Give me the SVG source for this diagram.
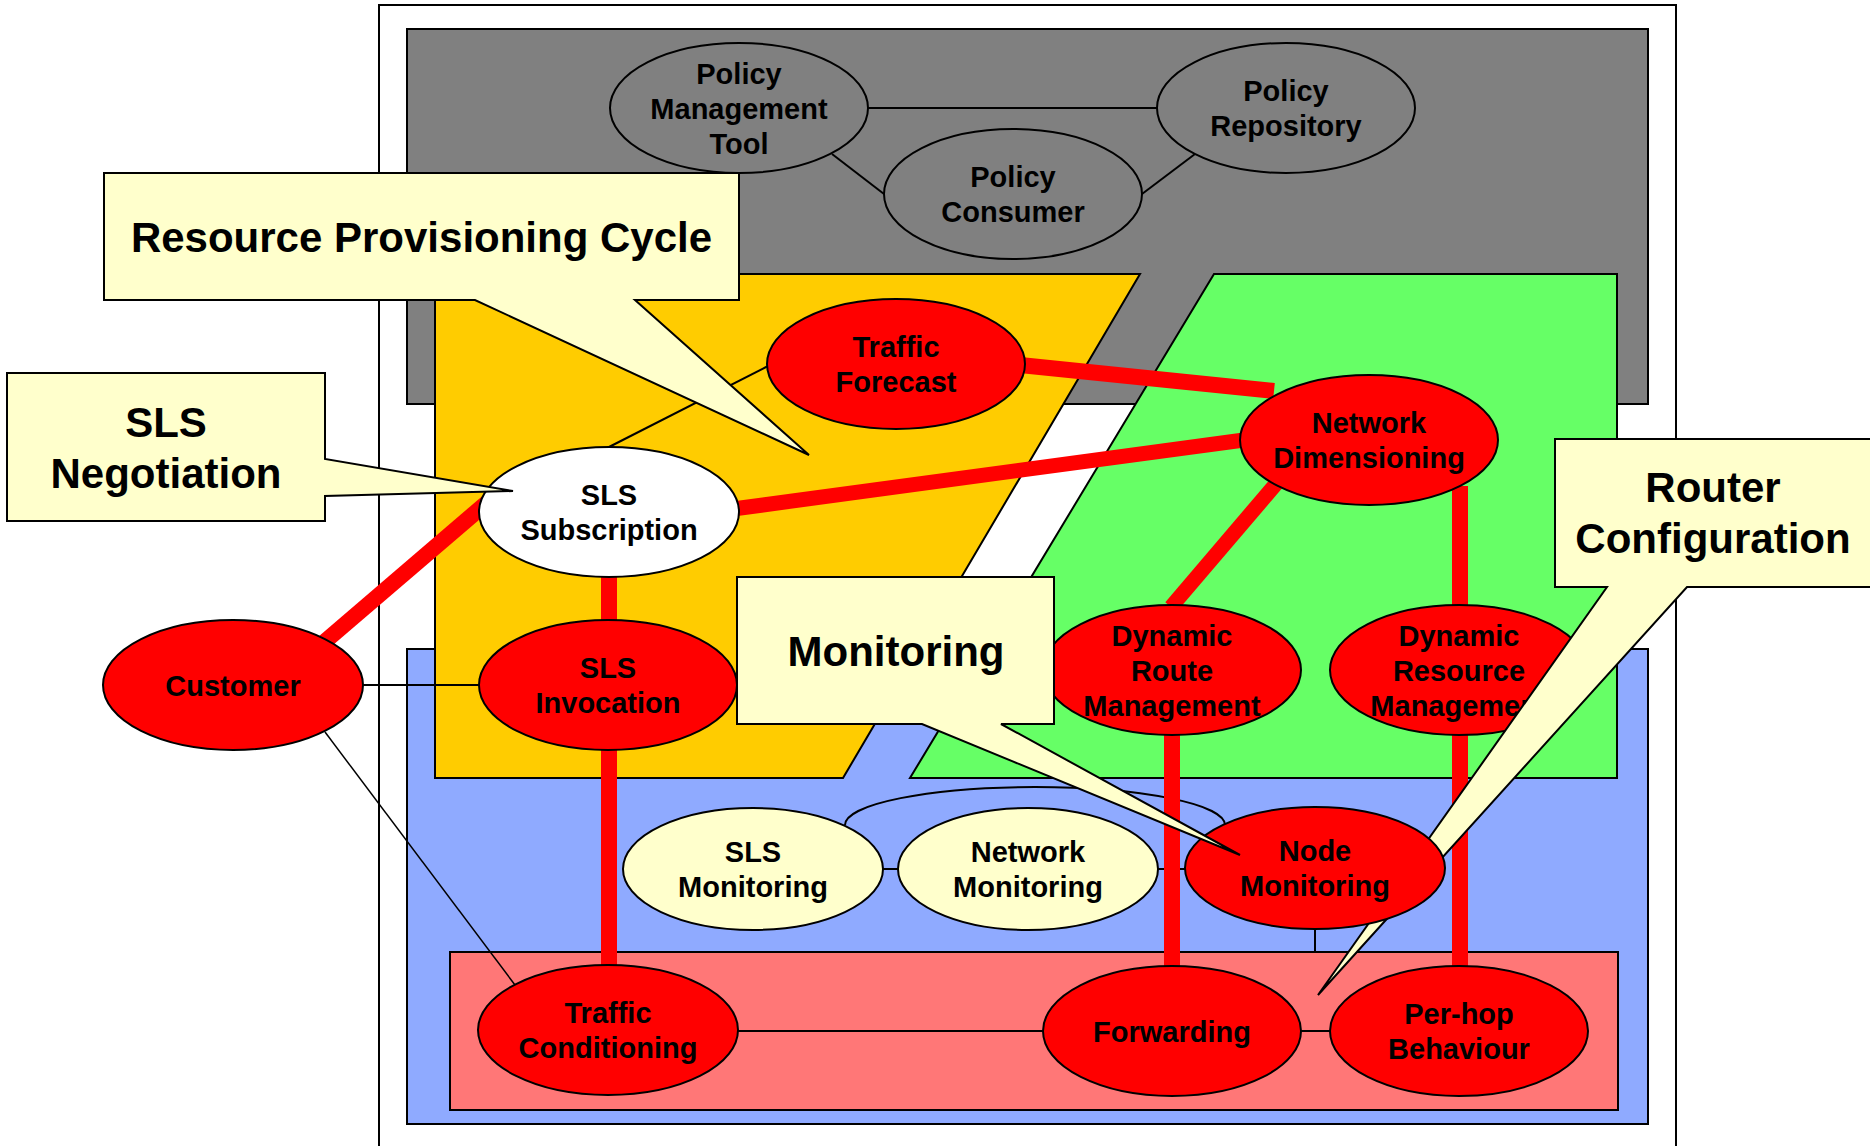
<svg xmlns="http://www.w3.org/2000/svg" width="1870" height="1146" viewBox="0 0 1870 1146">
  <defs>
    <style>
      .area { stroke: #000; stroke-width: 2; }
      .node ellipse { stroke: #000; stroke-width: 2; }
      .red ellipse { fill: #FF0000; }
      .cream ellipse { fill: #FFFFCC; }
      .grey ellipse { fill: #808080; }
      .white ellipse { fill: #FFFFFF; }
      text { font-family: "Liberation Sans", Arial, Helvetica, sans-serif; font-weight: bold; fill: #000; text-anchor: middle; }
      .node text { font-size: 29px; }
      .callout path { fill: #FFFFCC; stroke: #000; stroke-width: 2; stroke-linejoin: miter; }
      .callout text { font-size: 42px; }
      .thick { stroke: #FF0000; stroke-width: 16; fill: none; stroke-linecap: butt; }
      .thin { stroke: #000; stroke-width: 2; fill: none; }
    </style>
  </defs>

  <rect width="1870" height="1146" fill="#FFFFFF"/>

  <!-- layered areas -->
  <g id="areas">
    <rect class="area" x="379" y="5" width="1297" height="1160" fill="#FFFFFF"/>
    <rect class="area" x="407" y="29" width="1241" height="375" fill="#808080"/>
    <rect class="area" x="407" y="649" width="1241" height="475" fill="#8FAAFF"/>
    <polygon class="area" points="435,274 1140,274 843,778 435,778" fill="#FFCC00"/>
    <polygon class="area" points="1214,274 1617,274 1617,778 910,778" fill="#66FF66"/>
    <rect class="area" x="450" y="952" width="1168" height="158" fill="#FF7777"/>
  </g>

  <!-- links between nodes -->
  <g id="connectors">
    <line class="thin" x1="868" y1="108" x2="1157" y2="108"/>
    <line class="thin" x1="832" y1="154" x2="884" y2="194"/>
    <line class="thin" x1="1142" y1="194" x2="1195" y2="154"/>
    <line class="thin" x1="768" y1="366" x2="609" y2="447"/>
    <line class="thin" x1="362" y1="685" x2="479" y2="685"/>
    <line class="thin" style="stroke-width:1.5" x1="325" y1="732" x2="515" y2="985"/>
    <line class="thin" x1="737" y1="1031" x2="1044" y2="1031"/>
    <line class="thin" x1="1300" y1="1031" x2="1331" y2="1031"/>
    <line class="thin" x1="882" y1="869" x2="899" y2="869"/>
    <line class="thin" x1="1157" y1="869" x2="1186" y2="869"/>
    <line class="thin" x1="1315" y1="928" x2="1315" y2="952"/>
    <path class="thin" d="M 845 825 A 190 38 0 0 1 1225 825"/>

    <line class="thick" x1="1020" y1="365" x2="1274" y2="391"/>
    <line class="thick" style="stroke-width:15" x1="733" y1="509" x2="1244" y2="440"/>
    <line class="thick" x1="322" y1="644" x2="490" y2="500"/>
    <line class="thick" x1="609" y1="570" x2="609" y2="625"/>
    <line class="thick" x1="609" y1="745" x2="609" y2="970"/>
    <line class="thick" style="stroke-width:15" x1="1281" y1="478" x2="1171" y2="607"/>
    <line class="thick" x1="1460" y1="486" x2="1460" y2="610"/>
    <line class="thick" x1="1172" y1="730" x2="1172" y2="970"/>
    <line class="thick" x1="1460" y1="730" x2="1460" y2="970"/>
  </g>

  <!-- policy layer -->
  <g id="policy-management-tool" class="node grey">
    <ellipse cx="739" cy="108" rx="129" ry="65"/>
    <text x="739" y="83.5">Policy</text>
    <text x="739" y="118.5">Management</text>
    <text x="739" y="153.5">Tool</text>
  </g>
  <g id="policy-repository" class="node grey">
    <ellipse cx="1286" cy="108" rx="129" ry="65"/>
    <text x="1286" y="101">Policy</text>
    <text x="1286" y="136">Repository</text>
  </g>
  <g id="policy-consumer" class="node grey">
    <ellipse cx="1013" cy="194" rx="129" ry="65"/>
    <text x="1013" y="187">Policy</text>
    <text x="1013" y="222">Consumer</text>
  </g>

  <!-- provisioning and service nodes -->
  <g id="traffic-forecast" class="node red">
    <ellipse cx="896" cy="364" rx="129" ry="65"/>
    <text x="896" y="357">Traffic</text>
    <text x="896" y="392">Forecast</text>
  </g>
  <g id="network-dimensioning" class="node red">
    <ellipse cx="1369" cy="440" rx="129" ry="65"/>
    <text x="1369" y="433">Network</text>
    <text x="1369" y="468">Dimensioning</text>
  </g>
  <g id="sls-subscription" class="node white">
    <ellipse cx="609" cy="512" rx="130" ry="65"/>
    <text x="609" y="505">SLS</text>
    <text x="609" y="540">Subscription</text>
  </g>
  <g id="sls-invocation" class="node red">
    <ellipse cx="608" cy="685" rx="129" ry="65"/>
    <text x="608" y="678">SLS</text>
    <text x="608" y="713">Invocation</text>
  </g>
  <g id="customer" class="node red">
    <ellipse cx="233" cy="685" rx="130" ry="65"/>
    <text x="233" y="695.5">Customer</text>
  </g>
  <g id="dynamic-route-management" class="node red">
    <ellipse cx="1172" cy="670" rx="129" ry="65"/>
    <text x="1172" y="645.5">Dynamic</text>
    <text x="1172" y="680.5">Route</text>
    <text x="1172" y="715.5">Management</text>
  </g>
  <g id="dynamic-resource-management" class="node red">
    <ellipse cx="1459" cy="670" rx="129" ry="65"/>
    <text x="1459" y="645.5">Dynamic</text>
    <text x="1459" y="680.5">Resource</text>
    <text x="1459" y="715.5">Management</text>
  </g>
  <g id="sls-monitoring" class="node cream">
    <ellipse cx="753" cy="869" rx="130" ry="61"/>
    <text x="753" y="862">SLS</text>
    <text x="753" y="897">Monitoring</text>
  </g>
  <g id="network-monitoring" class="node cream">
    <ellipse cx="1028" cy="869" rx="130" ry="61"/>
    <text x="1028" y="862">Network</text>
    <text x="1028" y="897">Monitoring</text>
  </g>
  <g id="traffic-conditioning" class="node red">
    <ellipse cx="608" cy="1030" rx="130" ry="65"/>
    <text x="608" y="1023">Traffic</text>
    <text x="608" y="1058">Conditioning</text>
  </g>
  <g id="forwarding" class="node red">
    <ellipse cx="1172" cy="1031" rx="129" ry="65"/>
    <text x="1172" y="1041.5">Forwarding</text>
  </g>
  <g id="per-hop-behaviour" class="node red">
    <ellipse cx="1459" cy="1031" rx="129" ry="65"/>
    <text x="1459" y="1024">Per-hop</text>
    <text x="1459" y="1059">Behaviour</text>
  </g>

  <!-- this callout sits beneath the node monitoring ellipse -->
  <g id="callout-router-configuration" class="callout">
    <path d="M1555,439 H1872 V587 H1687 L1318,995 L1607,587 H1555 Z"/>
    <text x="1713" y="502">Router</text>
    <text x="1713" y="553">Configuration</text>
  </g>

  <g id="node-monitoring" class="node red">
    <ellipse cx="1315" cy="868" rx="130" ry="61"/>
    <text x="1315" y="861">Node</text>
    <text x="1315" y="896">Monitoring</text>
  </g>

  <!-- callouts -->
  <g id="callout-resource-provisioning" class="callout">
    <path d="M104,173 H739 V300 H635 L809,455 L475,300 H104 Z"/>
    <text x="421.5" y="252">Resource Provisioning Cycle</text>
  </g>
  <g id="callout-sls-negotiation" class="callout">
    <path d="M7,373 H325 V459 L513,491 L325,496 V521 H7 Z"/>
    <text x="166" y="437">SLS</text>
    <text x="166" y="488">Negotiation</text>
  </g>
  <g id="callout-monitoring" class="callout">
    <path d="M737,577 H1054 V724 H1001 L1240,855 L922,724 H737 Z"/>
    <text x="896" y="666">Monitoring</text>
  </g>
</svg>
